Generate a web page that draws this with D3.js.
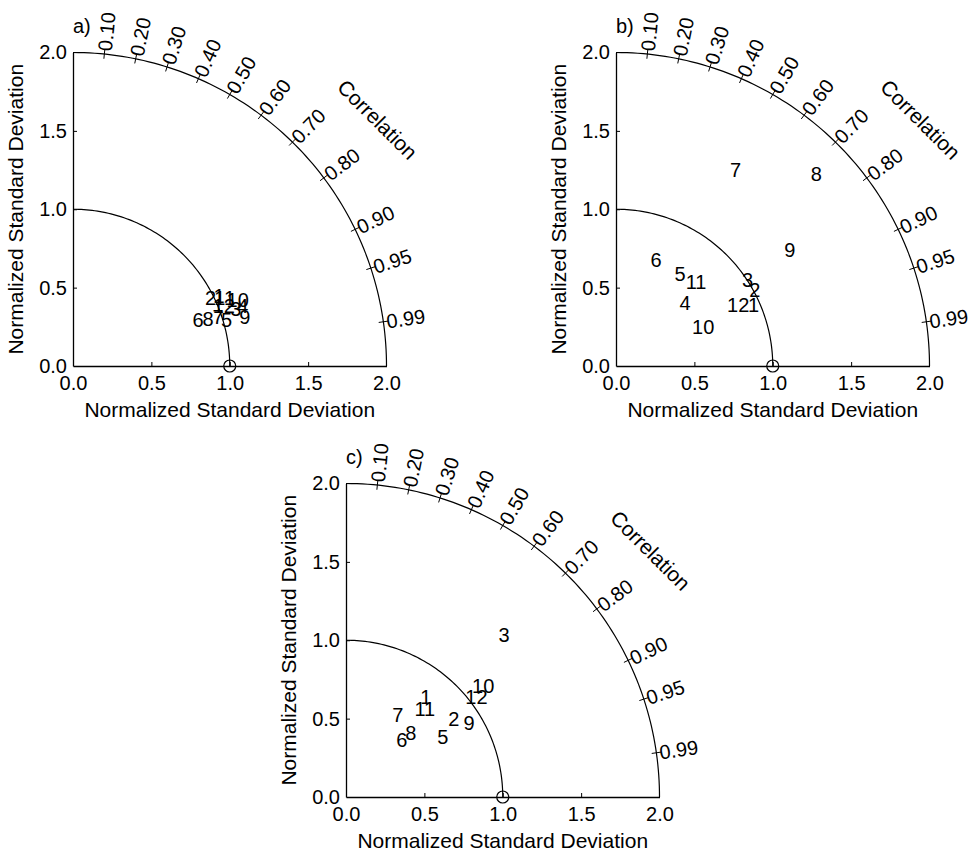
<!DOCTYPE html>
<html>
<head>
<meta charset="utf-8">
<script src="https://cdn.jsdelivr.net/npm/d3@7"></script>
<style>
  body { margin: 0; background: #fff; }
  svg text { font-family: "Liberation Sans", Arial, Helvetica, sans-serif; fill: #000; }
</style>
</head>
<body>
<div id="chart"></div>
<script>
// model numbers 1..12 in each panel
const panelNames = ["a)", "b)", "c)"];

// normalized standard deviation and correlation per model, panel a
const stdA  = [1.033, 0.980, 1.100, 1.148, 1.022, 0.851, 0.977, 0.912, 1.140, 1.132, 1.060, 1.037];
const corrA = [0.902, 0.895, 0.944, 0.943, 0.958, 0.937, 0.947, 0.945, 0.961, 0.928, 0.913, 0.928];
const labA  = ["1","2","3","4","5","6","7","8","9","10","11","12"];

// panel b
const stdB  = [0.961, 1.009, 1.002, 0.595, 0.717, 0.726, 1.468, 1.772, 1.332, 0.610, 0.741, 0.871];
const corrB = [0.914, 0.877, 0.837, 0.740, 0.569, 0.351, 0.520, 0.721, 0.832, 0.912, 0.689, 0.895];
const labB  = ["1","2","3","4","5","6","7","8","9","10","11","12"];

// panel c (no 4)
const stdC  = [0.817, 0.851, 1.445, 0.727, 0.509, 0.618, 0.581, 0.917, 1.125, 0.756, 1.049];
const corrC = [0.624, 0.809, 0.698, 0.850, 0.701, 0.536, 0.712, 0.856, 0.778, 0.665, 0.793];
const labC  = ["1","2","3","5","6","7","8","9","10","11","12"];

const stdTicks = [0, 0.5, 1.0, 1.5, 2.0];
const corrTicks = [0.1, 0.2, 0.3, 0.4, 0.5, 0.6, 0.7, 0.8, 0.9, 0.95, 0.99];

const W = 976, H = 853;
const R = 313.5; // pixels for std = 2.0
const origins = [[73, 366], [616, 366], [346, 797]];
const panels = [
  {std: stdA, corr: corrA, lab: labA},
  {std: stdB, corr: corrB, lab: labB},
  {std: stdC, corr: corrC, lab: labC}
];

const svg = d3.select("#chart").append("svg")
  .attr("width", W).attr("height", H);

panels.forEach((p, i) => {
  const [ox, oy] = origins[i];
  const x = d3.scaleLinear().domain([0, 2]).range([ox, ox + R]);
  const y = d3.scaleLinear().domain([0, 2]).range([oy, oy - R]);
  const g = svg.append("g");
  const px = (r, c) => x(r * c);
  const py = (r, c) => y(r * Math.sqrt(1 - c * c));

  // axes
  const xAxis = d3.axisBottom(x).tickValues(stdTicks).tickFormat(d3.format(".1f"))
    .tickSizeInner(-4).tickSizeOuter(0).tickPadding(10);
  const gx = g.append("g").attr("transform", `translate(0,${oy})`).call(xAxis);
  const yAxis = d3.axisLeft(y).tickValues(stdTicks).tickFormat(d3.format(".1f"))
    .tickSizeInner(-4).tickSizeOuter(0).tickPadding(6);
  const gy = g.append("g").attr("transform", `translate(${ox},0)`).call(yAxis);
  [gx, gy].forEach(a => {
    a.selectAll("text").style("font-size", "20px").attr("fill", "#000");
    a.select(".domain").attr("stroke", "#000").attr("stroke-width", 1.3);
    a.selectAll(".tick line").attr("stroke", "#000");
  });
  gx.selectAll(".tick line").filter(d => d === 0 || d === 2).remove();
  gy.selectAll(".tick line").filter(d => d === 0 || d === 2).remove();

  // arcs for std = 1 and std = 2
  const line = d3.line().x(d => x(d[0])).y(d => y(d[1]));
  [1, 2].forEach(r => {
    const pts = d3.range(0, 91).map(a => [r * Math.cos(a * Math.PI / 180), r * Math.sin(a * Math.PI / 180)]);
    g.append("path").attr("d", line(pts)).attr("fill", "none")
      .attr("stroke", "#000").attr("stroke-width", 1.2);
  });

  // correlation ticks and labels
  corrTicks.forEach(c => {
    const ang = Math.acos(c) * 180 / Math.PI;
    g.append("line")
      .attr("x1", px(1.97, c)).attr("y1", py(1.97, c))
      .attr("x2", px(2.03, c)).attr("y2", py(2.03, c))
      .attr("stroke", "#000").attr("stroke-width", 1);
    g.append("text")
      .attr("transform", `translate(${px(2.02, c)},${py(2.02, c)}) rotate(${-ang})`)
      .attr("dy", "0.36em")
      .style("font-size", "20px")
      .text(d3.format(".2f")(c));
  });

  // "Correlation" title
  const ca = 39 * Math.PI / 180;
  g.append("text")
    .attr("transform", `translate(${x(2.5 * Math.cos(ca))},${y(2.5 * Math.sin(ca))}) rotate(45)`)
    .attr("text-anchor", "middle").attr("dy", "0.36em")
    .style("font-size", "21px")
    .text("Correlation");

  // reference point
  g.append("circle").attr("cx", x(1)).attr("cy", y(0)).attr("r", 6)
    .attr("fill", "none").attr("stroke", "#000").attr("stroke-width", 1.2);

  // model labels
  g.selectAll("text.pt").data(p.lab).join("text")
    .attr("class", "pt")
    .attr("x", (d, j) => px(p.std[j], p.corr[j]))
    .attr("y", (d, j) => py(p.std[j], p.corr[j]))
    .attr("text-anchor", "middle").attr("dy", "0.36em")
    .style("font-size", "20px")
    .text(d => d);

  // axis titles
  g.append("text").attr("x", x(1)).attr("y", oy + 51)
    .attr("text-anchor", "middle").style("font-size", "21px")
    .text("Normalized Standard Deviation");
  g.append("text")
    .attr("transform", `translate(${ox - 50},${y(1)}) rotate(-90)`)
    .attr("text-anchor", "middle").style("font-size", "21px")
    .text("Normalized Standard Deviation");

  // panel letter
  g.append("text").attr("x", ox).attr("y", oy - R - 20)
    .style("font-size", "20px").text(panelNames[i]);
});
</script>
</body>
</html>
